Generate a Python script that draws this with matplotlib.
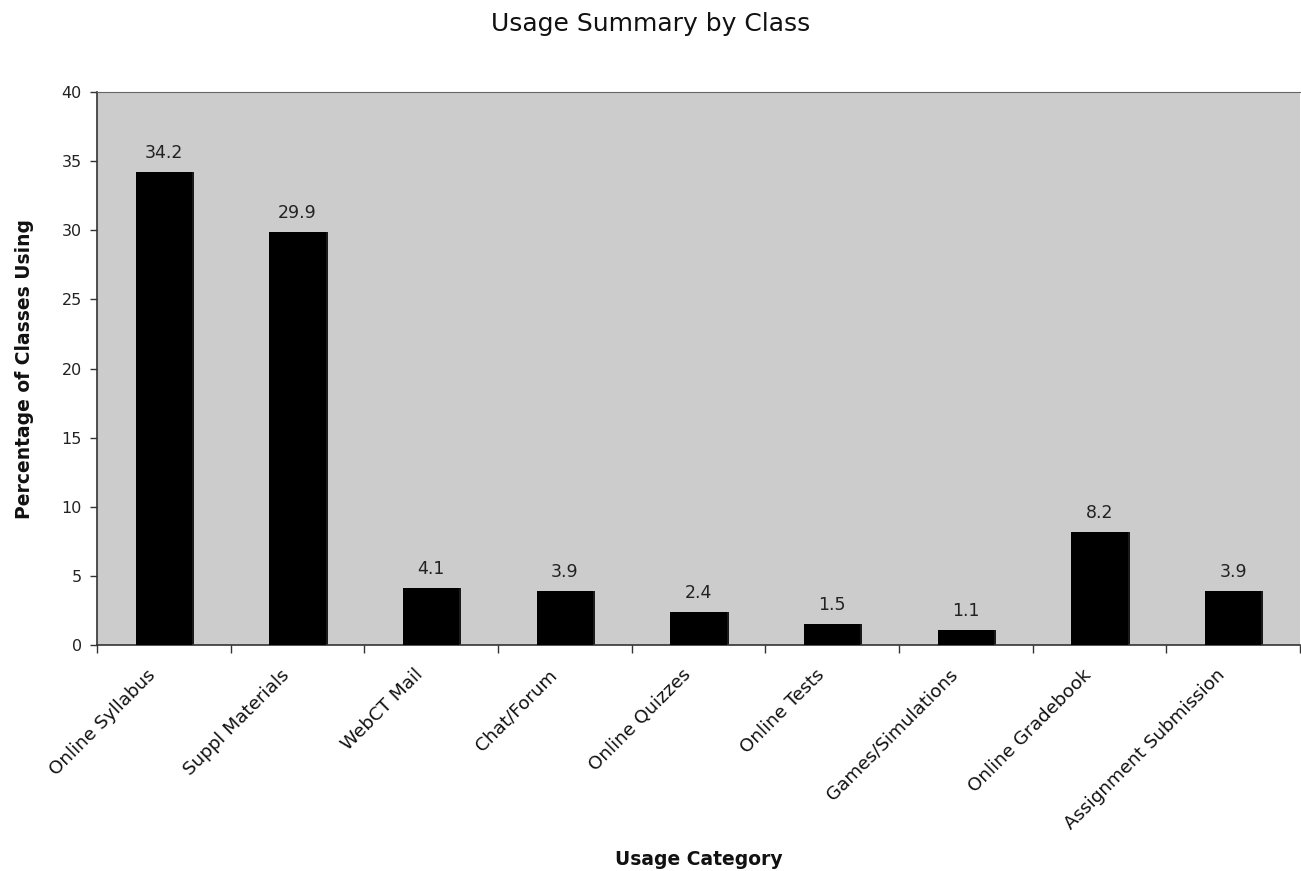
import matplotlib
matplotlib.use("Agg")
import matplotlib.pyplot as plt
import matplotlib.transforms as mtransforms
import numpy as np

categories = ["Online Syllabus", "Suppl Materials", "WebCT Mail", "Chat/Forum",
              "Online Quizzes", "Online Tests", "Games/Simulations",
              "Online Gradebook", "Assignment Submission"]
values = [34.2, 29.9, 4.1, 3.9, 2.4, 1.5, 1.1, 8.2, 3.9]
yticks = [0, 5, 10, 15, 20, 25, 30, 35, 40]

plt.rcParams['font.family'] = ['DejaVu Sans']

W, H = 1301, 871
L, R, T, B = 97, 1300, 92, 645
fig = plt.figure(figsize=(W/100, H/100), dpi=100)
ax = fig.add_axes([L/W, 1-B/H, (R-L)/W, (B-T)/H])
ax.set_facecolor("#cccccc")

x = np.arange(len(categories))
bw = 0.42
# subtle shadow
ax.bar(x + 0.015, values, width=bw, color="#1a1a1a", zorder=2)
ax.bar(x, values, width=bw, color="black", zorder=3)
for xi, v in zip(x, values):
    ax.annotate(f"{v:.1f}", (xi, v), xytext=(0, 10), textcoords="offset pixels",
                ha="center", va="bottom", fontsize=12.5, color="#222222")

ax.set_xlim(-0.5, len(categories) - 0.5)
ax.set_ylim(0, 40)
ax.set_yticks(yticks)
ax.set_yticklabels([str(t) for t in yticks], fontsize=11.5, color="#222222")
ax.set_xticks(x)
ax.set_xticklabels(categories, rotation=45, ha="right", rotation_mode="anchor",
                   fontsize=13.2, color="#111111")
ax.tick_params(axis="x", which="major", length=0, pad=15)
shift = mtransforms.ScaledTranslation(-17/100, 0, fig.dpi_scale_trans)
for lbl in ax.get_xticklabels():
    lbl.set_transform(lbl.get_transform() + shift)
ax.set_xticks(np.arange(len(categories) + 1) - 0.5, minor=True)
ax.tick_params(axis="x", which="minor", length=6, width=1, color="#333333")
ax.tick_params(axis="y", length=5, width=1, color="#333333", pad=6)

for s in ["left", "bottom"]:
    ax.spines[s].set_color("#333333")
    ax.spines[s].set_linewidth(1.2)
ax.spines["top"].set_color("#666666")
ax.spines["right"].set_visible(False)

ax.set_ylabel("Percentage of Classes Using", fontsize=13.5, fontweight="bold", color="#111111")
ax.yaxis.set_label_coords((34 - L)/(R - L), 0.5)
ax.set_xlabel("Usage Category", fontsize=13.5, fontweight="bold", color="#111111")
ax.xaxis.set_label_coords(0.5, -(850 - B)/(B - T))
fig.text(651/W, 1-24/H, "Usage Summary by Class", ha="center", va="center", fontsize=18, color="#111111")

fig.savefig("out.png", dpi=100, facecolor="white")
